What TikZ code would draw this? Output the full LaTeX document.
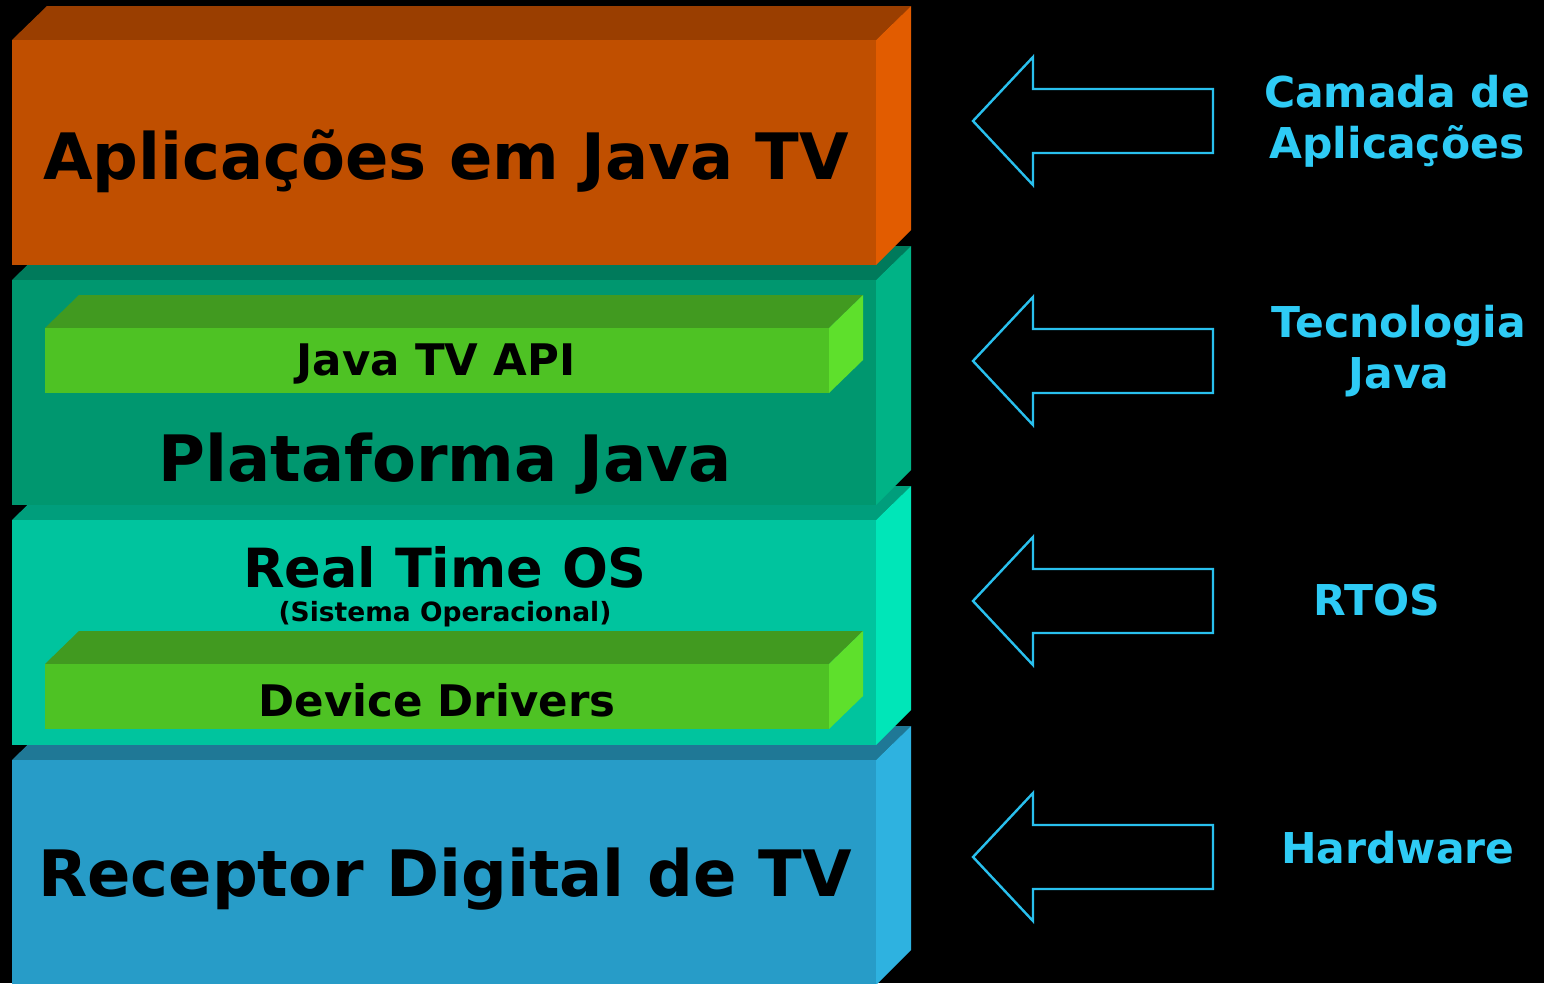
\documentclass[tikz,border=0pt]{standalone}
\usepackage{fontspec}
\setmainfont{DejaVu Sans}
\definecolor{orF}{HTML}{C04F00}
\definecolor{orT}{HTML}{9A3E00}
\definecolor{orS}{HTML}{E25C00}
\definecolor{tlF}{HTML}{00976F}
\definecolor{tlT}{HTML}{007A5B}
\definecolor{tlS}{HTML}{00B386}
\definecolor{mnF}{HTML}{00C49E}
\definecolor{mnT}{HTML}{009E7C}
\definecolor{mnS}{HTML}{00E6B8}
\definecolor{blF}{HTML}{279CC8}
\definecolor{blT}{HTML}{1F7896}
\definecolor{blS}{HTML}{2EB2E0}
\definecolor{grF}{HTML}{4EC224}
\definecolor{grT}{HTML}{419A20}
\definecolor{grS}{HTML}{5EE02C}
\definecolor{cyanlbl}{HTML}{2ECBF5}
\definecolor{cyanarr}{HTML}{29C0EE}
\newcommand{\drawlayer}[4]{%
  \fill[#3] (12,#1) -- (47,#1-34) -- (911,#1-34) -- (876,#1) -- cycle;
  \fill[#4] (876,#1) -- (911,#1-34) -- (911,#1+190) -- (876,#1+225) -- cycle;
  \fill[#2] (12,#1) rectangle (876,#1+225);
}
\newcommand{\drawbar}[1]{%
  \fill[grT] (45,#1) -- (79,#1-33) -- (863,#1-33) -- (829,#1) -- cycle;
  \fill[grS] (829,#1) -- (863,#1-33) -- (863,#1+32) -- (829,#1+65) -- cycle;
  \fill[grF] (45,#1) rectangle (829,#1+65);
}
\newcommand{\drawarrow}[1]{%
  \draw[arrowline] (973,#1) -- (1033,#1-64) -- (1033,#1-32) -- (1213,#1-32)
    -- (1213,#1+32) -- (1033,#1+32) -- (1033,#1+64) -- cycle;
}
\begin{document}
\begin{tikzpicture}[x=1pt,y=-1pt,
  arrowline/.style={draw=cyanarr,line width=2.4pt,line join=miter},
  big/.style={font=\bfseries\fontsize{64}{70}\selectfont,text=black,inner sep=0pt},
  mid/.style={font=\bfseries\fontsize{54}{60}\selectfont,text=black,inner sep=0pt},
  bar/.style={font=\bfseries\fontsize{43.5}{48}\selectfont,text=black,inner sep=0pt},
  small/.style={font=\bfseries\fontsize{26.5}{30}\selectfont,text=black,inner sep=0pt},
  lbl/.style={font=\bfseries\fontsize{42.5}{51}\selectfont,text=cyanlbl,align=center,inner sep=0pt}]
\fill[black] (0,0) rectangle (1544,983);
\useasboundingbox (0,0) rectangle (1544,983);
\begin{scope}
\clip (0,0) rectangle (1544,983);
\drawlayer{760}{blF}{blT}{blS}
\drawlayer{520}{mnF}{mnT}{mnS}
\drawbar{664}
\drawlayer{280}{tlF}{tlT}{tlS}
\drawbar{328}
\drawlayer{40}{orF}{orT}{orS}
\end{scope}
\node[big] (apl) at (446,161) {Aplicações em Java TV};
\node[bar] (api) at (436,364) {Java TV API};
\node[big] (plat) at (445,464) {Plataforma Java};
\node[mid] (rtos) at (445,567) {Real Time OS};
\node[small] (so) at (445,614) {(Sistema Operacional)};
\node[bar] (dd) at (437,700) {Device Drivers};
\node[big] (rec) at (445,879) {Receptor Digital de TV};
\drawarrow{121}
\drawarrow{361}
\drawarrow{601}
\drawarrow{857}
\node[lbl] (l1) at (1397,121) {Camada de\\Aplicações};
\node[lbl] (l2) at (1399,351) {Tecnologia\\Java};
\node[lbl] (l3) at (1377,600) {RTOS};
\node[lbl] (l4) at (1398,848) {Hardware};
\end{tikzpicture}
\end{document}
